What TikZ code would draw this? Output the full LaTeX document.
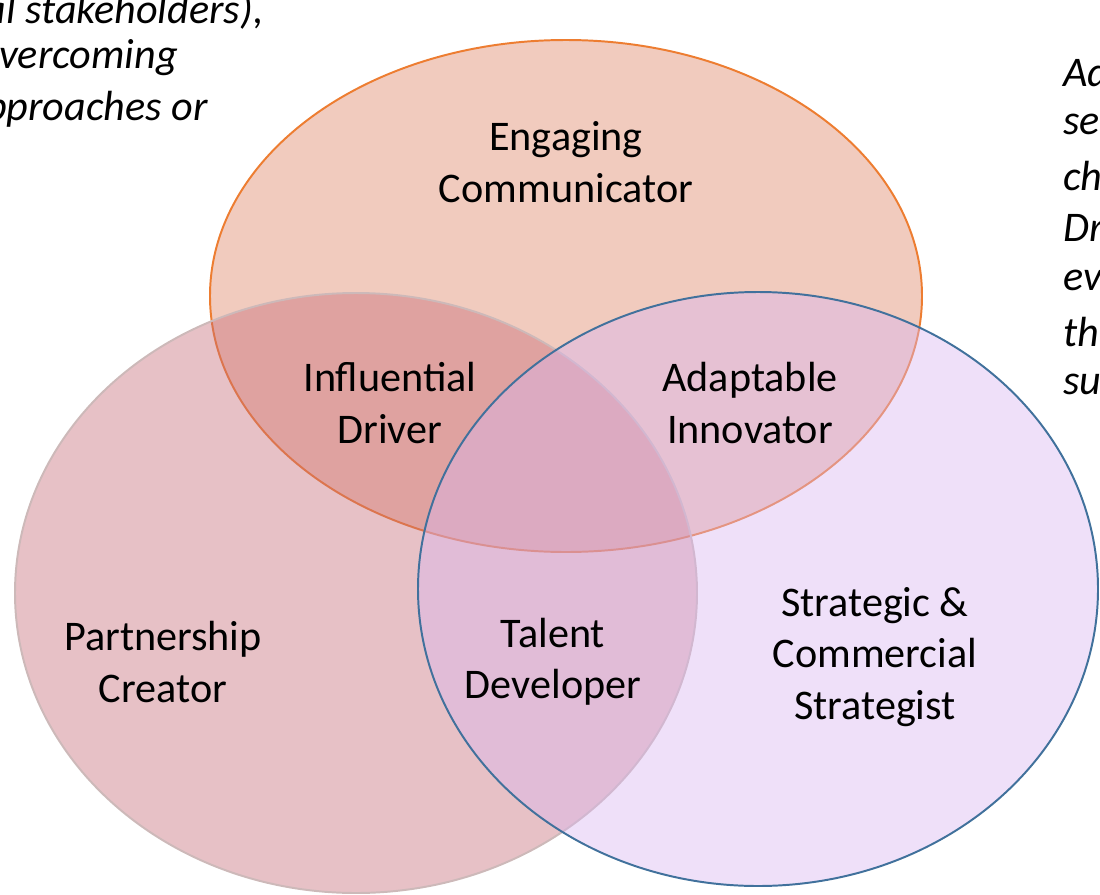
\documentclass[tikz,border=0pt]{standalone}
\usepackage{fontspec}
\setmainfont{Carlito}
\usepackage{tikz}
\usetikzlibrary{positioning}

\definecolor{topfill}{RGB}{222,130,100}
\definecolor{leftfill}{RGB}{197,107,120}
\definecolor{rightfill}{RGB}{217,182,240}
\definecolor{topline}{RGB}{237,125,49}
\definecolor{leftline}{RGB}{205,185,185}
\definecolor{rightline}{RGB}{65,113,156}

\begin{document}
\begin{tikzpicture}[x=0.025cm,y=-0.025cm,
    every node/.style={font=\fontsize{30}{36.5}\selectfont, align=center, inner sep=0pt},
    role/.style={text=black},
    note/.style={font=\fontsize{30}{36.5}\selectfont\itshape},
    blob/.style={line width=1.4pt, fill opacity=0.42}]
    \useasboundingbox (0,0) rectangle (1100,895);
    \clip (0,0) rectangle (1100,895);
    %%%%% THE THREE CIRCLES
    \begin{scope}
      \filldraw[blob, draw=topline, fill=topfill] (566,296) ellipse [x radius=356, y radius=256];
      \filldraw[blob, draw=leftline, fill=leftfill] (356,593) ellipse [x radius=341, y radius=300];
      \filldraw[blob, draw=rightline, fill=rightfill] (758,589) ellipse [x radius=340, y radius=297];
    \end{scope}
    %%%%% THE ROLES
    \node[role] (ENGAGE) at (566,162) {Engaging\\Communicator};
    \node[role] (DRIVER) at (390,403) {Influential\\Driver};
    \node[role] (INNOV) at (750,403) {Adaptable\\Innovator};
    \node[role] (PARTNER) at (163,662) {Partnership\\Creator};
    \node[role] (TALENT) at (553,662) {Talent\\Developer};
    \node[role] (STRAT) at (875,657) {Strategic \&\\Commercial\\Strategist};
    %%%%% THE SIDE NOTES
    \node[note, anchor=east] (NOTEL1) at (264,11) {al stakeholders),};
    \node[note, anchor=east] (NOTEL2) at (178,58) {vercoming};
    \node[note, anchor=east] (NOTEL3) at (208,109) {pproaches or};
    \foreach \txt [count=\i] in {Ad,se,ch,Dr,ev,th,su}
      \node[note, anchor=west] (NOTER\i) at (1063,20+52*\i) {\txt};
  \end{tikzpicture}
\end{document}
